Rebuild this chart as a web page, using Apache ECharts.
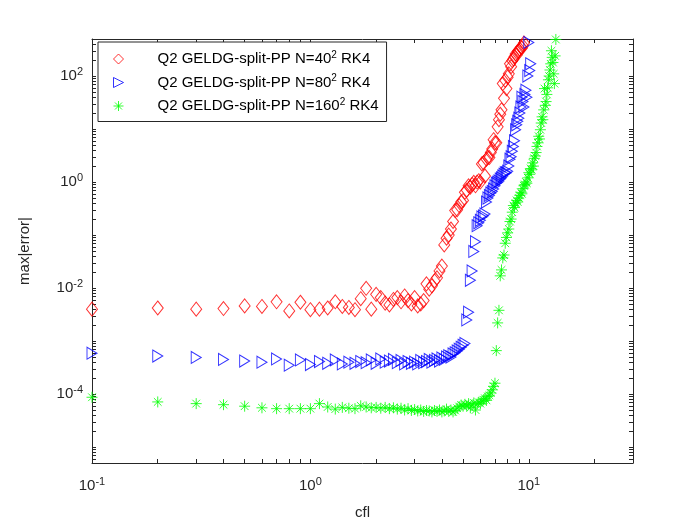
<!DOCTYPE html>
<html>
<head>
<meta charset="utf-8">
<script src="https://cdn.jsdelivr.net/npm/echarts@6/dist/echarts.min.js"></script>
<style>html,body{margin:0;background:#fff}#main{width:700px;height:525px}</style>
</head>
<body>
<div id="main"></div>
<script>
// cfl values shared by all three runs (index i pairs with the error arrays)
var cfl = [0.1,0.2,0.3,0.4,0.5,0.6,0.7,0.8,0.9,1.0,
  1.1,1.2,1.3,1.4,1.5,1.6,1.7,1.8,1.9,2.0,
  2.1,2.2,2.3,2.4,2.5,2.6,2.7,2.8,2.9,3.0,
  3.1,3.2,3.3,3.4,3.5,3.6,3.7,3.8,3.9,4.0,
  4.1,4.2,4.3,4.4,4.5,4.6,4.7,4.8,4.9,5.0,
  5.1,5.2,5.3,5.4,5.5,5.6,5.7,5.8,5.9,6.0,
  6.1,6.2,6.3,6.4,6.5,6.6,6.7,6.8,6.9,7.0,
  7.1,7.2,7.3,7.4,7.5,7.6,7.7,7.8,7.9,8.0,
  8.1,8.2,8.3,8.4,8.5,8.6,8.7,8.8,8.9,9.0,
  9.1,9.2,9.3,9.4,9.5,9.6,9.7,9.8,9.9,10.0,
  10.1,10.2,10.3,10.4,10.5,10.6,10.7,10.8,10.9,11.0,
  11.1,11.2,11.3,11.4,11.5,11.6,11.7,11.8,11.9,12.0,
  12.1,12.2,12.3,12.4,12.5,12.6,12.7,12.8,12.9,13.0,
  13.1,13.2,13.3];

// N=40^2
var err40 = [4.0e-3,4.2e-3,4.0e-3,4.1e-3,4.6e-3,4.5e-3,5.5e-3,3.7e-3,5.4e-3,3.9e-3,
  4.0e-3,4.2e-3,5.5e-3,4.5e-3,4.3e-3,3.9e-3,6.3e-3,9.9e-3,4.0e-3,7.6e-3,
  6.6e-3,5.2e-3,4.8e-3,6.1e-3,6.6e-3,5.5e-3,7.1e-3,5.8e-3,5.0e-3,6.6e-3,
  4.6e-3,5.0e-3,5.8e-3,1.2e-2,9.5e-3,1.1e-2,1.36e-2,1.56e-2,2.1e-2,2.6e-2,
  6.5e-2,8.7e-2,0.10,0.13,0.18,0.29,0.30,0.36,0.42,0.45,
  0.64,0.70,0.85,0.80,0.90,0.99,0.85,1.0,1.06,1.0,
  2.2,2.3,1.3,2.7,2.9,2.9,3.6,4.2,6.3,5.5,
  5.5,11,15,19,23,72,38,83,58,95,
  110,170,150,195,210,230,260,250,290,300,
  320,350,340,370,420];

// N=80^2
var err80 = [5.9e-4,5.2e-4,4.9e-4,4.5e-4,4.2e-4,4.0e-4,4.6e-4,3.5e-4,4.4e-4,3.6e-4,
  4.1e-4,3.8e-4,4.4e-4,3.7e-4,4.0e-4,3.8e-4,4.1e-4,3.9e-4,4.4e-4,3.8e-4,
  4.6e-4,4.0e-4,4.2e-4,4.5e-4,3.9e-4,4.3e-4,3.7e-4,4.1e-4,3.8e-4,4.0e-4,
  3.7e-4,4.3e-4,3.9e-4,4.1e-4,4.5e-4,4.0e-4,4.3e-4,4.6e-4,4.2e-4,4.8e-4,
  4.5e-4,5.0e-4,5.3e-4,5.0e-4,5.7e-4,6.0e-4,6.5e-4,7.0e-4,7.6e-4,8.3e-4,
  9.0e-4,2.5e-3,3.5e-3,1.4e-2,2.1e-2,4.9e-2,7.5e-2,0.15,0.17,0.19,
  0.22,0.23,0.25,0.42,0.50,0.56,0.62,0.66,0.74,0.85,
  0.95,0.99,1.05,1.14,1.2,1.3,1.4,1.5,1.5,1.6,
  2.0,2.7,3.0,3.8,4.7,6.0,9.7,12,14,16,
  20,26,40,33,26,45,54,40,100,430,
  127,170];

// N=160^2
var err160 = [8.7e-5,7.1e-5,6.6e-5,6.3e-5,5.9e-5,5.5e-5,5.3e-5,5.3e-5,5.3e-5,5.3e-5,
  6.6e-5,5.7e-5,5.2e-5,5.6e-5,5.4e-5,5.3e-5,6.0e-5,5.7e-5,5.5e-5,5.6e-5,
  5.4e-5,5.6e-5,5.3e-5,5.5e-5,5.2e-5,5.4e-5,5.0e-5,5.3e-5,4.9e-5,5.1e-5,
  4.8e-5,5.0e-5,4.7e-5,4.9e-5,4.8e-5,4.6e-5,4.9e-5,4.7e-5,5.0e-5,4.6e-5,
  4.8e-5,5.2e-5,4.7e-5,5.0e-5,4.6e-5,4.9e-5,5.4e-5,5.8e-5,6.2e-5,5.9e-5,
  6.4e-5,6.0e-5,6.6e-5,5.5e-5,6.2e-5,6.8e-5,5.0e-5,6.5e-5,7.0e-5,6.6e-5,
  7.3e-5,7.8e-5,8.3e-5,7.6e-5,9.0e-5,9.5e-5,1.05e-4,1.2e-4,1.4e-4,1.6e-4,
  6.6e-4,2.2e-3,3.8e-3,1.7e-2,2.2e-2,3.7e-2,4.2e-2,7.0e-2,0.09,0.11,
  0.13,0.18,0.20,0.27,0.36,0.33,0.40,0.45,0.42,0.50,
  0.56,0.64,0.60,0.75,0.85,0.90,1.0,0.95,1.2,1.5,
  1.4,1.8,1.7,2.3,2.0,2.8,3.1,3.6,4.7,5.5,
  7.3,6.5,9.7,13,17,15,23,58,28,33,
  45,60,85,100,130,170,300,225,180,110,
  72,240,490];

var xTickLabels = [0.1, 1, 10];
var yTickLabels = [1e-4, 1e-2, 1, 100];
var legendParts = [
  ['Q2 GELDG-split-PP N=40', '2', ' RK4'],
  ['Q2 GELDG-split-PP N=80', '2', ' RK4'],
  ['Q2 GELDG-split-PP N=160', '2', ' RK4']
];
var seriesNames = ['N40', 'N80', 'N160'];

var FONT = 'Liberation Sans';
var AX = '#262626';

function pairs(vals) {
  return vals.map(function (v, i) { return [cfl[i], v]; });
}

// tick positions 1..9 x 10^d inside the range
function logTicks(lo, hi) {
  var out = [];
  for (var d = -7; d <= 3; d++) {
    for (var k = 1; k <= 9; k++) {
      var v = k * Math.pow(10, d);
      if (v >= lo * 0.9999 && v <= hi * 1.0001) out.push(v);
    }
  }
  return out;
}

function powLabel(list) {
  return function (v) {
    for (var i = 0; i < list.length; i++) {
      if (Math.abs(v - list[i]) / list[i] < 1e-6) {
        return '10{s|' + Math.round(Math.log10(list[i])) + '}';
      }
    }
    return '';
  };
}

var labelRich = {
  s: { fontSize: 11, fontFamily: FONT, color: AX, padding: [0, 0, 8, 0] }
};

var symDiamond = 'path://M0,-1L1,0L0,1L-1,0Z';
var symTri = 'path://M-1,-1L1,0L-1,1Z';
var symStar = 'path://M0,-1L0,1M-1,0L1,0M-0.7,-0.7L0.7,0.7M-0.7,0.7L0.7,-0.7';

var xMin = 0.1, xMax = 30, yMin = 5e-6, yMax = 500;

function xAxisCfg(pos, main) {
  return {
    type: 'log', min: xMin, max: xMax, position: pos,
    name: main ? 'cfl' : '', nameLocation: 'middle', nameGap: 42,
    nameTextStyle: { fontFamily: FONT, fontSize: 15, color: AX },
    axisLine: { lineStyle: { color: AX, width: 1 } },
    axisTick: { show: true, inside: true, length: 4, customValues: logTicks(xMin, xMax), lineStyle: { color: AX } },
    axisLabel: { show: main, formatter: powLabel(xTickLabels), rich: labelRich,
      fontFamily: FONT, fontSize: 15, color: AX, margin: 13,
      showMinLabel: true, showMaxLabel: false },
    splitLine: { show: false }, minorTick: { show: false }
  };
}

function yAxisCfg(pos, main) {
  return {
    type: 'log', min: yMin, max: yMax, position: pos,
    name: main ? 'max|error|' : '', nameLocation: 'middle', nameGap: 60,
    nameTextStyle: { fontFamily: FONT, fontSize: 15, color: AX },
    axisLine: { lineStyle: { color: AX, width: 1 } },
    axisTick: { show: true, inside: true, length: 4, customValues: logTicks(yMin, yMax), lineStyle: { color: AX } },
    axisLabel: { show: main, formatter: powLabel(yTickLabels), rich: labelRich,
      fontFamily: FONT, fontSize: 15, color: AX, margin: 9 },
    splitLine: { show: false }, minorTick: { show: false }
  };
}

var myChart = echarts.init(document.getElementById('main'), null, { renderer: 'canvas' });

var option = {
  animation: false,
  backgroundColor: '#fff',
  grid: { left: 92, right: 67, top: 39, bottom: 58 },
  xAxis: [xAxisCfg('bottom', true), xAxisCfg('top', false)],
  yAxis: [yAxisCfg('left', true), yAxisCfg('right', false)],
  legend: {
    orient: 'vertical', left: 98, top: 42,
    padding: [8, 8, 8, 15], itemGap: 7,
    itemWidth: 10, itemHeight: 12,
    backgroundColor: '#fff', borderColor: AX, borderWidth: 1, borderRadius: 0,
    textStyle: { fontFamily: FONT, fontSize: 15, color: '#000', padding: [0, 0, 0, 29],
      rich: { s: { fontSize: 10, fontFamily: FONT, color: '#000', padding: [0, 0, 8, 0] } } },
    formatter: function (name) {
      var p = legendParts[seriesNames.indexOf(name)];
      return p[0] + '{s|' + p[1] + '}' + p[2];
    },
    data: [
      { name: 'N40', icon: symDiamond, itemStyle: { color: 'transparent', borderColor: '#ff0000', borderWidth: 1 } },
      { name: 'N80', icon: symTri, itemStyle: { color: 'transparent', borderColor: '#0000ff', borderWidth: 1 } },
      { name: 'N160', icon: symStar, itemStyle: { color: 'transparent', borderColor: '#00ff00', borderWidth: 1 } }
    ]
  },
  series: [
    {
      name: 'N40', type: 'scatter', data: pairs(err40),
      symbol: symDiamond, symbolSize: [11, 14],
      itemStyle: { color: 'transparent', borderColor: '#ff0000', borderWidth: 1 }
    },
    {
      name: 'N80', type: 'scatter', data: pairs(err80),
      symbol: symTri, symbolSize: [10, 12],
      itemStyle: { color: 'transparent', borderColor: '#0000ff', borderWidth: 1 }
    },
    {
      name: 'N160', type: 'scatter', data: pairs(err160),
      symbol: symStar, symbolSize: [11, 11],
      itemStyle: { color: 'transparent', borderColor: '#00ff00', borderWidth: 1 }
    }
  ]
};

myChart.setOption(option);
</script>
</body>
</html>
